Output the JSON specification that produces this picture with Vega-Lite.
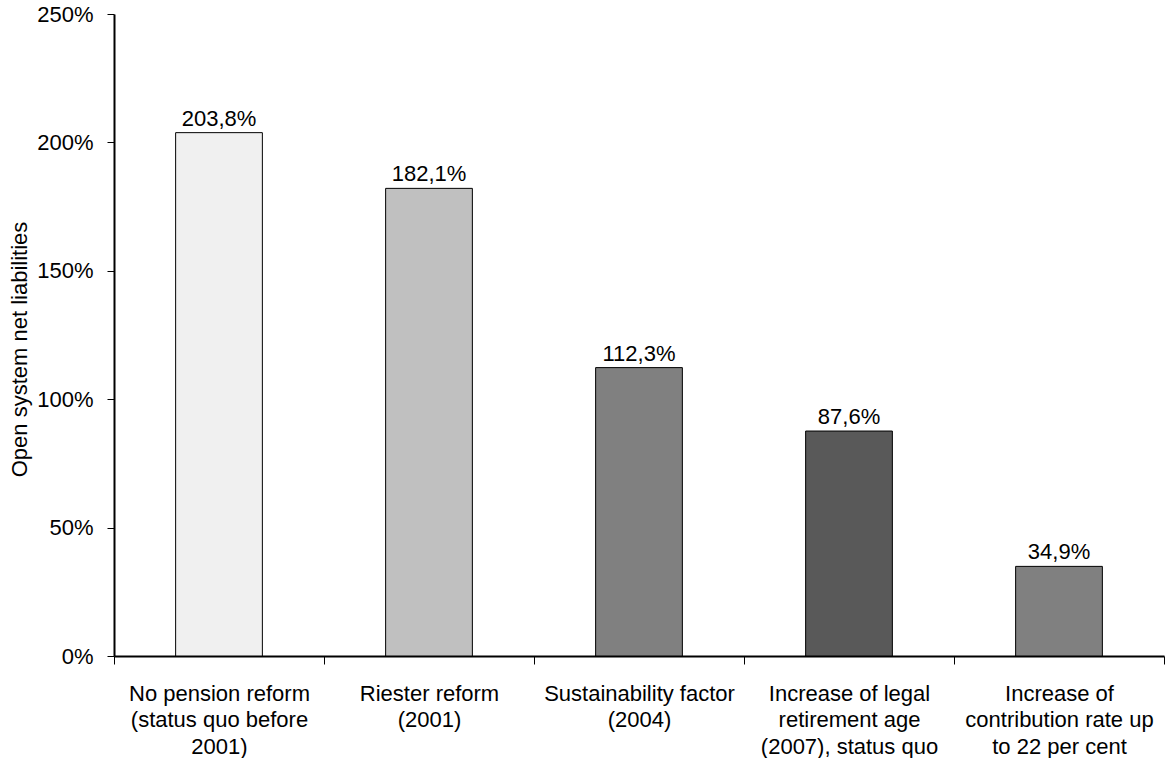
{
  "$schema": "https://vega.github.io/schema/vega-lite/v6.json",
  "autosize": {"type": "none"},
  "padding": {"left": 114, "top": 14, "right": 1, "bottom": 102},
  "width": 1050,
  "height": 642,
  "background": "white",
  "config": {
    "view": {"stroke": null},
    "locale": {"number": {"decimal": ",", "thousands": ".", "grouping": [3], "currency": ["", " €"]}},
    "font": "Liberation Sans"
  },
  "data": {
    "values": [
      {"cat": "No pension reform|(status quo before|2001)", "value": 2.038, "color": "#f0f0f0"},
      {"cat": "Riester reform|(2001)", "value": 1.821, "color": "#c0c0c0"},
      {"cat": "Sustainability factor|(2004)", "value": 1.123, "color": "#808080"},
      {"cat": "Increase of legal|retirement age|(2007), status quo", "value": 0.876, "color": "#595959"},
      {"cat": "Increase of|contribution rate up|to 22 per cent", "value": 0.349, "color": "#808080"}
    ]
  },
  "encoding": {
    "x": {
      "field": "cat", "type": "nominal", "sort": null,
      "scale": {"paddingInner": 0, "paddingOuter": 0},
      "axis": {
        "title": null, "labelAngle": 0, "labelExpr": "split(datum.label, '|')",
        "labelFont": "Liberation Sans", "labelFontSize": 22, "labelColor": "black",
        "labelLineHeight": 26.5, "labelPadding": 19, "labelLimit": 300,
        "tickBand": "extent", "tickColor": "black", "tickSize": 8,
        "domainColor": "black", "domainWidth": 2, "labelBaseline": "top"
      }
    },
    "y": {
      "field": "value", "type": "quantitative",
      "scale": {"domain": [0, 2.5], "nice": false},
      "axis": {
        "title": "Open system net liabilities", "titleFont": "Liberation Sans", "titleFontSize": 22,
        "titleFontWeight": "normal", "titleColor": "black",
        "titleX": -88, "titleY": 335, "titleBaseline": "alphabetic", "titleAlign": "center", "titleAngle": -90,
        "format": ".0%", "values": [0, 0.5, 1, 1.5, 2, 2.5],
        "labelFont": "Liberation Sans", "labelFontSize": 22, "labelColor": "black", "labelPadding": 14,
        "grid": false, "tickColor": "black", "tickSize": 7, "domainColor": "black", "domainWidth": 2
      }
    }
  },
  "layer": [
    {
      "mark": {"type": "bar", "width": {"band": 0.413}, "stroke": "black", "strokeWidth": 1},
      "encoding": {"color": {"field": "color", "type": "nominal", "scale": null}}
    },
    {
      "mark": {"type": "text", "baseline": "alphabetic", "dy": -7, "fontSize": 22, "font": "Liberation Sans", "color": "black"},
      "encoding": {"text": {"field": "value", "type": "quantitative", "format": ".1%"}}
    }
  ]
}
